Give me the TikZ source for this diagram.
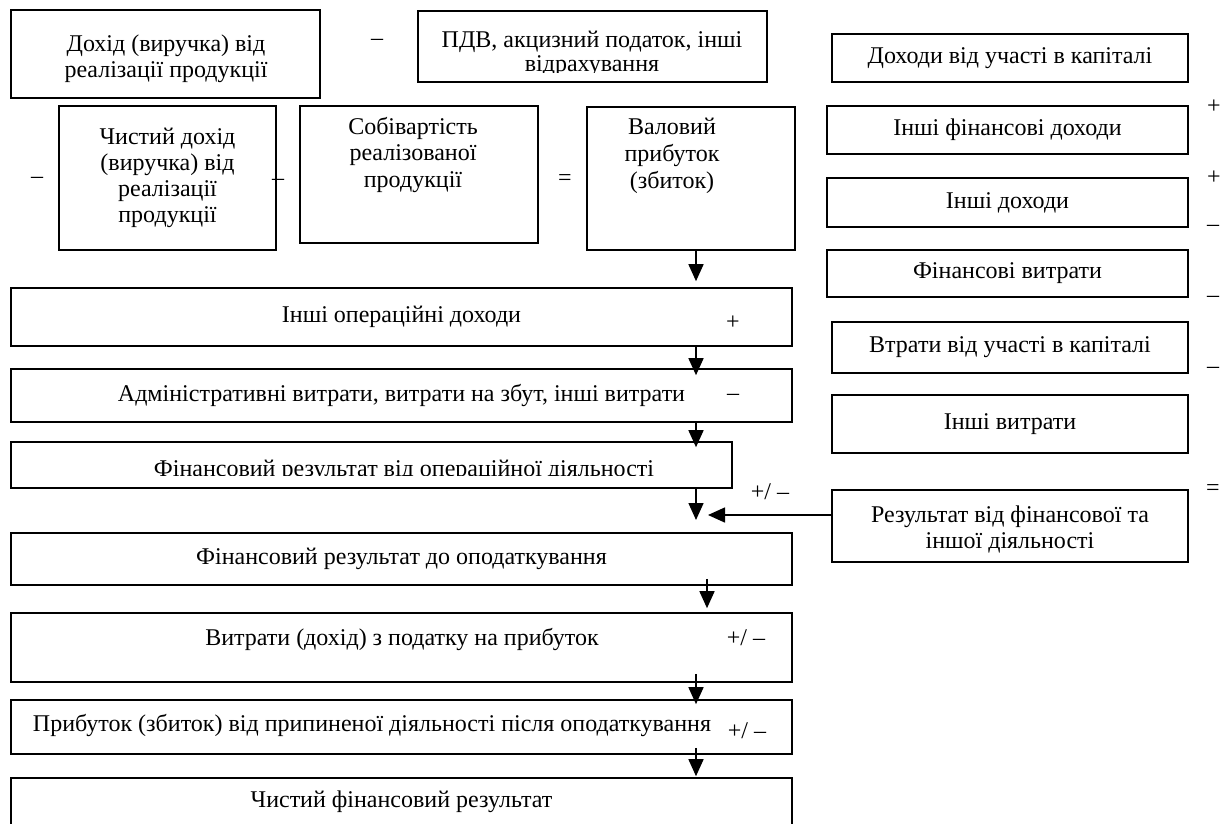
\documentclass[tikz,border=0pt]{standalone}
\usepackage{fontspec}
\setmainfont{Liberation Serif}
\usetikzlibrary{arrows.meta}
\newcommand\mkbox[6]{\node[box, minimum width={(#4-#2)*1pt}, minimum height={(#5-#3)*1pt}] (#1) at ({(#2+#4)/2},{(#3+#5)/2}) {#6};}
\begin{document}
\begin{tikzpicture}[x=1pt,y=-1pt,
  box/.style={draw, line width=1.6pt, inner sep=0pt, align=center, font=\fontsize{24}{26}\selectfont},
  txt/.style={inner sep=0pt, align=center, font=\fontsize{24}{26}\selectfont},
  sgn/.style={inner sep=0pt, font=\fontsize{24}{26}\selectfont},
  arr/.style={line width=1.5pt, -{Triangle[width=15pt,length=17pt]}}]
\useasboundingbox (0,0) rectangle (1229,823);
% top block
\mkbox{A}{11}{10}{320}{98}{}
\node[txt, anchor=base, font=\fontsize{24}{26}\selectfont] (At) at (166,77) {Дохід (виручка) від\\реалізації продукції};
\mkbox{B}{418}{11}{767}{82}{}
\begin{scope}
\clip (418,11) rectangle (767,72);
\node[txt, anchor=base, font=\fontsize{24}{23.5}\selectfont] (Bt) at (592,71) {ПДВ, акцизний податок, інші\\відрахування};
\end{scope}
\mkbox{C}{59}{106}{276}{250}{\fontsize{24}{27.5}\selectfont Чистий дохід\\(виручка) від\\реалізації\\продукції}
\mkbox{D}{300}{106}{538}{243}{}
\node[txt, anchor=base, font=\fontsize{24}{26.5}\selectfont] (Dt) at (413,187) {Собівартість\\реалізованої\\продукції};
\mkbox{E}{587}{107}{795}{250}{}
\node[txt, anchor=base, font=\fontsize{24}{27}\selectfont] (Et) at (672,188) {Валовий\\прибуток\\(збиток)};
% right column
\mkbox{R1}{832}{34}{1188}{82}{Доходи від участі в капіталі}
\mkbox{R2}{827}{106}{1188}{154}{Інші фінансові доходи}
\mkbox{R3}{827}{178}{1188}{227}{Інші доходи}
\mkbox{R4}{827}{250}{1188}{297}{Фінансові витрати}
\mkbox{R5}{832}{322}{1188}{373}{Втрати від участі в капіталі}
\mkbox{R6}{832}{395}{1188}{453}{Інші витрати}
\mkbox{R7}{832}{490}{1188}{562}{}
\node[txt, anchor=base] (R7t) at (1010,548) {Результат від фінансової та\\іншої діяльності};
% left column
\mkbox{L1}{11}{288}{792}{346}{Інші операційні доходи}
\mkbox{L2}{11}{369}{792}{422}{Адміністративні витрати, витрати на збут, інші витрати}
\mkbox{L3}{11}{442}{732}{488}{}
\begin{scope}
\clip (11,442) rectangle (732,475.5);
\node[txt, anchor=base] (L3t) at (404,476) {Фінансовий результат від операційної діяльності};
\end{scope}
\mkbox{L4}{11}{533}{792}{585}{Фінансовий результат до оподаткування}
\mkbox{L5}{11}{613}{792}{682}{}
\node[txt, anchor=base] (L5t) at (402,645) {Витрати (дохід) з податку на прибуток};
\mkbox{L6}{11}{700}{792}{754}{}
\node[txt, anchor=base] (L6t) at (372,731) {Прибуток (збиток) від припиненої діяльності після оподаткування};
\mkbox{L7}{11}{778}{792}{826}{Чистий фінансовий результат}
% signs
\node[sgn] (s1) at (377,42) {–};
\node[sgn] (s2) at (37,180) {–};
\node[sgn] (s3) at (278,182) {–};
\node[sgn] (s4) at (565,180) {=};
\node[sgn] (s5) at (733,323) {+};
\node[sgn] (s6) at (733,397) {–};
\node[sgn] (s7) at (770,492) {+/ –};
\node[sgn] (s8) at (746,638) {+/ –};
\node[sgn] (s9) at (747,731) {+/ –};
\node[sgn] (r1) at (1214,107) {+};
\node[sgn] (r2) at (1214,178) {+};
\node[sgn] (r3) at (1213,228) {–};
\node[sgn] (r4) at (1213,299) {–};
\node[sgn] (r5) at (1213,370) {–};
\node[sgn] (r6) at (1213,490) {=};
% connectors
\coordinate (ax) at (696,0);
\coordinate (bx) at (707,0);
\coordinate (j) at (696,520);
\coordinate (k) at (708,515);
\draw[arr] (E.south -| ax) -- ([yshift=6pt]L1.north -| ax);
\draw[arr] (L1.south -| ax) -- ([yshift=-7pt]L2.north -| ax);
\draw[arr] (L2.south -| ax) -- ([yshift=-6pt]L3.north -| ax);
\draw[arr] (L3.south -| ax) -- (j);
\draw[arr] (R7.west |- k) -- (k);
\draw[arr] ([yshift=7pt]L4.south -| bx) -- ([yshift=4pt]L5.north -| bx);
\draw[arr] ([yshift=9pt]L5.south -| ax) -- ([yshift=-5pt]L6.north -| ax);
\draw[arr] ([yshift=7pt]L6.south -| ax) -- ([yshift=1pt]L7.north -| ax);
\end{tikzpicture}
\end{document}
